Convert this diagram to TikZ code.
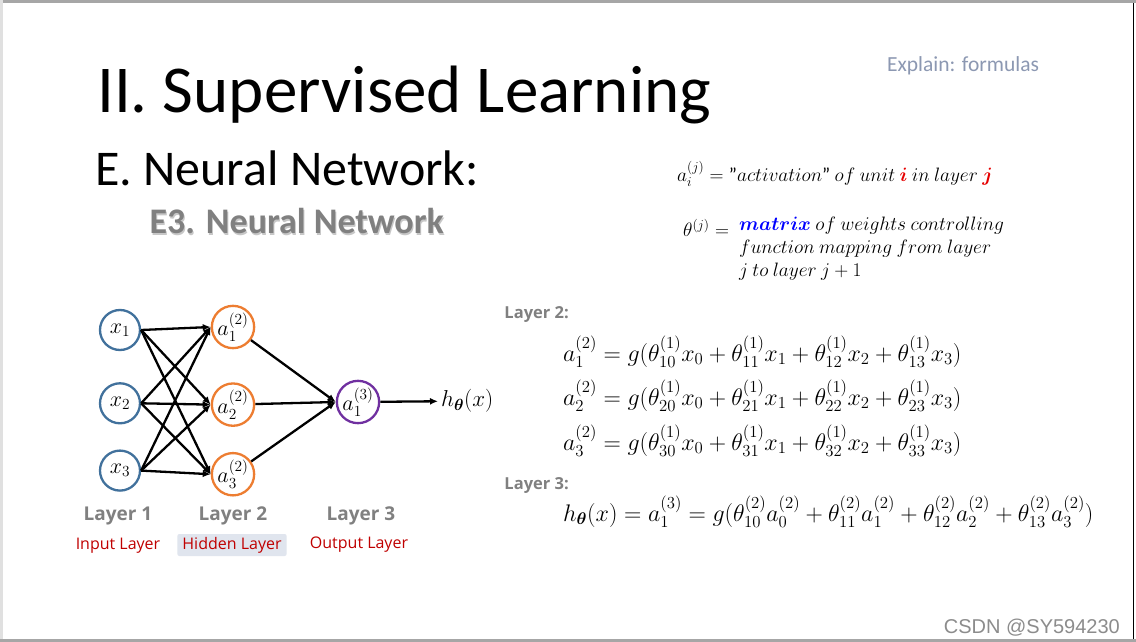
\documentclass[tikz,border=0pt]{standalone}
\usepackage{fix-cm}
\usepackage{amsmath,amssymb}
\usepackage{fontspec}
\setmainfont{Carlito}
\newfontfamily\labelfont{Open Sans}
\newfontfamily\markfont{Liberation Sans}
\usepackage{tikz}
\usetikzlibrary{arrows.meta,positioning}
\definecolor{inblue}{RGB}{65,113,156}
\definecolor{hidorange}{RGB}{237,125,49}
\definecolor{outpurple}{RGB}{112,48,160}
\definecolor{layergray}{RGB}{128,128,128}
\definecolor{layerred}{RGB}{192,0,0}
\definecolor{explaingray}{RGB}{140,152,178}
\definecolor{hidbox}{RGB}{224,229,238}
\definecolor{defred}{RGB}{230,0,0}

\begin{document}
\begin{tikzpicture}
          [x=1pt,y=-1pt,->,>={Latex[length=8pt,width=7pt]},line width=2.3pt]
          \tikzstyle{neuron}=[circle,line width=2.3pt,minimum size=40pt,inner sep=0pt,font=\fontsize{22}{22}\selectfont]
          \tikzstyle{layerlbl}=[text=layergray,font=\labelfont\bfseries\fontsize{19}{19}\selectfont]
          \tikzstyle{rolelbl}=[text=layerred,font=\labelfont\fontsize{16}{16}\selectfont,inner sep=3pt]
          \tikzstyle{eqn}=[anchor=west,inner sep=0pt,font=\fontsize{24}{28}\selectfont]
          \tikzstyle{defn}=[anchor=west,inner sep=0pt,font=\fontsize{19.4}{23}\selectfont]

          % frame
          \fill[white] (0,0) rectangle (1136,642);
          \fill[black!35] (0,0) rectangle (1136,3);
          \fill[black!12] (0,0) rectangle (3,642);
          \fill[black!35] (0,639) rectangle (1136,642);
          \draw[-,line width=1.5pt] (1133.5,3) -- (1133.5,639);

          % titles
          \node[anchor=base west,inner sep=0pt,font=\fontsize{67}{67}\selectfont] (title) at (96,113) {II. Supervised Learning};
          \node[anchor=base west,inner sep=0pt,font=\fontsize{50}{50}\selectfont] (sub) at (94,185) {E. Neural Network:};
          \node[anchor=base west,inner sep=0pt,text=black!22,font=\bfseries\fontsize{36}{36}\selectfont] at (149.5,235) {E3. Neural Network};
          \node[anchor=base west,inner sep=0pt,text=layergray,font=\bfseries\fontsize{36}{36}\selectfont] (e3) at (148.5,233) {E3. Neural Network};
          \node[anchor=base west,inner sep=0pt,text=explaingray,font=\fontsize{21.5}{21.5}\selectfont] (expl) at (886,72) {Explain: formulas};

          % network
          \node[neuron,draw=inblue] (x1) at (120,330) {$x_1$};
          \node[neuron,draw=inblue] (x2) [below=31pt of x1] {$x_2$};
          \node[neuron,draw=inblue] (x3) [below=25pt of x2] {$x_3$};
          \node[neuron,draw=hidorange] (h1) at (233,327) {$a_1^{(2)}$};
          \node[neuron,draw=hidorange] (h2) [below=33pt of h1] {$a_2^{(2)}$};
          \node[neuron,draw=hidorange] (h3) [below=25pt of h2] {$a_3^{(2)}$};
          \node[neuron,draw=outpurple] (o1) at (358,402) {$a_1^{(3)}$};
          \node[anchor=west,inner sep=2pt,font=\fontsize{23}{23}\selectfont] (hx) at (438,401) {$h_{\boldsymbol{\theta}}(x)$};

          \foreach \i in {1,2,3}
            \foreach \j in {1,2,3}
              \draw (x\i.east) -- (h\j.west);
          \foreach \j in {1,2,3}
            \draw (h\j) -- (o1.west);
          \draw (o1) -- (hx);

          \node[layerlbl] (l1) at (118,516) {Layer 1};
          \node[layerlbl] (l2) at (233,516) {Layer 2};
          \node[layerlbl] (l3) at (361,516) {Layer 3};
          \node[rolelbl] (r1) at (118,546) {Input Layer};
          \node[rolelbl,fill=hidbox,rounded corners=2pt,inner xsep=5pt] (r2) at (232,545) {Hidden Layer};
          \node[rolelbl] (r3) at (359,545) {Output Layer};

          % definitions
          \node[defn] (da) at (676,174) {$a_i^{(j)} = \text{"}activation\text{"}\ of\ unit\ {\color{defred}\boldsymbol{i}}\ in\ layer\ {\color{defred}\boldsymbol{j}}$};
          \node[defn] (dt) at (682,228) {$\theta^{(j)} =$};
          \node[defn,anchor=north west,align=left] (dm) at (738,216) {${\color{blue}\boldsymbol{matrix}}\ of\ weights\ controlling$\\$function\ mapping\ from\ layer$\\$j\ to\ layer\ j+1$};

          % layer 2 formulas
          \node[layerlbl,anchor=base west,font=\labelfont\bfseries\fontsize{16.5}{16.5}\selectfont] (lay2) at (500,318) {Layer 2:};
          \node[eqn] (eq1) at (562,352) {$a_1^{(2)} = g(\theta_{10}^{(1)}x_0 + \theta_{11}^{(1)}x_1 + \theta_{12}^{(1)}x_2 + \theta_{13}^{(1)}x_3)$};
          \node[eqn] (eq2) at (562,396) {$a_2^{(2)} = g(\theta_{20}^{(1)}x_0 + \theta_{21}^{(1)}x_1 + \theta_{22}^{(1)}x_2 + \theta_{23}^{(1)}x_3)$};
          \node[eqn] (eq3) at (562,441) {$a_3^{(2)} = g(\theta_{30}^{(1)}x_0 + \theta_{31}^{(1)}x_1 + \theta_{32}^{(1)}x_2 + \theta_{33}^{(1)}x_3)$};

          % layer 3 formula
          \node[layerlbl,anchor=base west,font=\labelfont\bfseries\fontsize{16.5}{16.5}\selectfont] (lay3) at (500,489) {Layer 3:};
          \node[eqn] (eq4) at (562,512) {$h_{\boldsymbol{\theta}}(x) = a_1^{(3)} = g(\theta_{10}^{(2)}a_0^{(2)} + \theta_{11}^{(2)}a_1^{(2)} + \theta_{12}^{(2)}a_2^{(2)} + \theta_{13}^{(2)}a_3^{(2)})$};

          \node[anchor=base east,inner sep=0pt,text=black!45,font=\markfont\fontsize{20}{20}\selectfont] (mark) at (1121,633) {CSDN @SY594230};
        \end{tikzpicture}
\end{document}
